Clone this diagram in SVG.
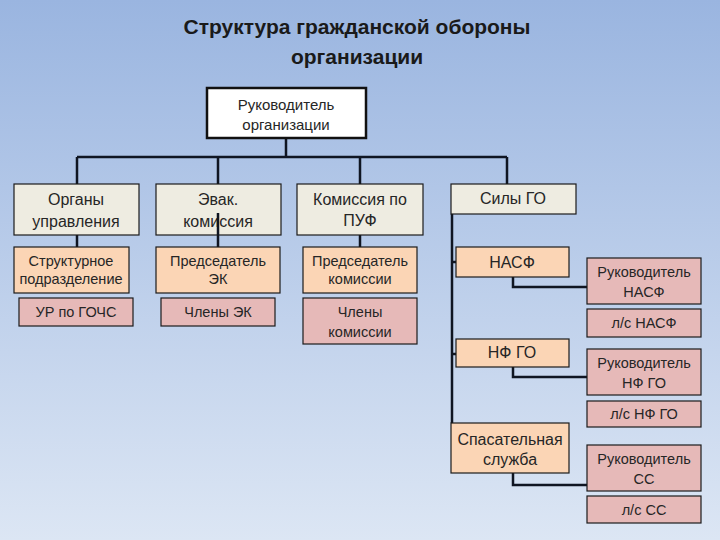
<svg xmlns="http://www.w3.org/2000/svg" width="720" height="540" viewBox="0 0 720 540">
<defs>
<linearGradient id="bg" x1="0" y1="0" x2="0" y2="1">
<stop offset="0" stop-color="#9ab5e0"/>
<stop offset="1" stop-color="#dce6f4"/>
</linearGradient>
</defs>
<style>
.t{font-family:"Liberation Sans",Arial,sans-serif;fill:#262626;text-anchor:middle}
.title{font-family:"Liberation Sans",Arial,sans-serif;font-weight:bold;font-size:21px;fill:#1a1a1a;text-anchor:middle}
.big{font-size:16px}
.sm{font-size:14.5px}
.hd{font-size:15px}
.beige{fill:#eeece1;stroke:#1b1b1b;stroke-width:1.2}
.orange{fill:#fbd5b5;stroke:#1b1b1b;stroke-width:1.2}
.pink{fill:#e6b9b8;stroke:#1b1b1b;stroke-width:1.2}
.top{fill:#ffffff;stroke:#111111;stroke-width:2.5}
.c{fill:none;stroke:#0f1522;stroke-width:2.5}
</style>
<rect x="0" y="0" width="720" height="540" fill="url(#bg)"/>
<g id="title">
<text class="title" x="357" y="34">Структура гражданской обороны</text>
<text class="title" x="357" y="64">организации</text>
</g>
<g id="connectors">
<path class="c" d="M286 138V157M77 157H507M77 157V184M218 157V184M360 157V184M507 157V184"/>
<path class="c" d="M77 235V247M218 213V247M360 235V247"/>
<path class="c" d="M452 214V423M452 262H456M452 354H456"/>
<path class="c" d="M513 277V287H587M513 367V377H587M513 473V485H587"/>
</g>
<g id="n-head"><rect class="top" x="207" y="88" width="159" height="50"/>
<text class="t hd" x="286" y="110">Руководитель</text><text class="t hd" x="286" y="130">организации</text></g>
<g id="n-organy"><rect class="beige" x="14" y="184" width="125" height="51"/>
<text class="t big" x="76" y="205">Органы</text><text class="t big" x="76" y="227">управления</text></g>
<g id="n-evak"><rect class="beige" x="156" y="184" width="125" height="51"/>
<text class="t big" x="218" y="205">Эвак.</text><text class="t big" x="218" y="227">комиссия</text></g>
<path class="c" d="M218 213V235"/>
<g id="n-puf"><rect class="beige" x="297" y="184" width="126" height="51"/>
<text class="t big" x="360" y="205">Комиссия по</text><text class="t big" x="360" y="226">ПУФ</text></g>
<g id="n-sily"><rect class="beige" x="451" y="184" width="125" height="30"/>
<text class="t big" x="513" y="204">Силы ГО</text></g>
<g id="n-struct"><rect class="orange" x="14" y="247" width="115" height="46"/>
<text class="t sm" x="71" y="266">Структурное</text><text class="t sm" x="71" y="284">подразделение</text></g>
<g id="n-ur"><rect class="pink" x="19" y="298" width="114" height="28"/>
<text class="t sm" x="76" y="317">УР по ГОЧС</text></g>
<g id="n-predek"><rect class="orange" x="156" y="247" width="124" height="46"/>
<text class="t sm" x="218" y="266">Председатель</text><text class="t sm" x="218" y="284">ЭК</text></g>
<g id="n-chlek"><rect class="pink" x="161" y="298" width="114" height="28"/>
<text class="t sm" x="218" y="317">Члены ЭК</text></g>
<g id="n-predkom"><rect class="orange" x="303" y="247" width="114" height="46"/>
<text class="t sm" x="360" y="266">Председатель</text><text class="t sm" x="360" y="284">комиссии</text></g>
<g id="n-chlkom"><rect class="pink" x="303" y="298" width="114" height="46"/>
<text class="t sm" x="360" y="317">Члены</text><text class="t sm" x="360" y="337">комиссии</text></g>
<g id="n-nasf"><rect class="orange" x="456" y="247" width="113" height="30"/>
<text class="t big" x="512" y="268">НАСФ</text></g>
<g id="n-rnasf"><rect class="pink" x="587" y="258" width="114" height="46"/>
<text class="t sm" x="644" y="277">Руководитель</text><text class="t sm" x="644" y="297">НАСФ</text></g>
<g id="n-lsnasf"><rect class="pink" x="587" y="309" width="114" height="28"/>
<text class="t sm" x="644" y="328">л/с НАСФ</text></g>
<g id="n-nfgo"><rect class="orange" x="456" y="339" width="113" height="28"/>
<text class="t big" x="512" y="358">НФ ГО</text></g>
<g id="n-rnfgo"><rect class="pink" x="587" y="349" width="114" height="46"/>
<text class="t sm" x="644" y="368">Руководитель</text><text class="t sm" x="644" y="388">НФ ГО</text></g>
<g id="n-lsnfgo"><rect class="pink" x="587" y="401" width="114" height="26"/>
<text class="t sm" x="644" y="419">л/с НФ ГО</text></g>
<g id="n-ss"><rect class="orange" x="451" y="423" width="118" height="50"/>
<text class="t big" x="510" y="445">Спасательная</text><text class="t big" x="510" y="465">служба</text></g>
<g id="n-rss"><rect class="pink" x="587" y="445" width="114" height="46"/>
<text class="t sm" x="644" y="464">Руководитель</text><text class="t sm" x="644" y="484">СС</text></g>
<g id="n-lsss"><rect class="pink" x="587" y="496" width="114" height="27"/>
<text class="t sm" x="644" y="515">л/с СС</text></g>
</svg>
